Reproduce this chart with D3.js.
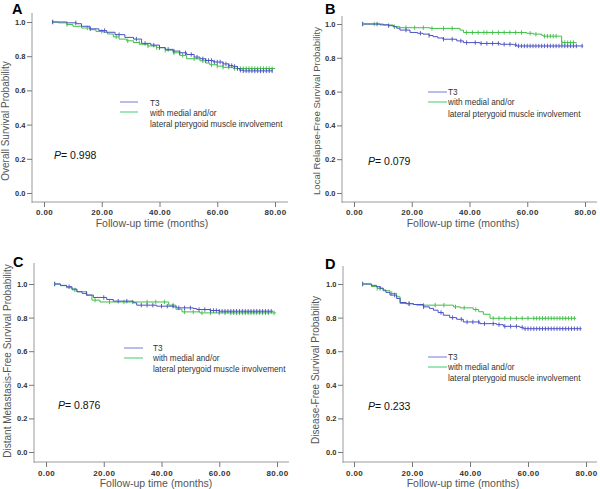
<!DOCTYPE html>
<html><head><meta charset="utf-8">
<script src="https://cdn.jsdelivr.net/npm/d3@7"></script>
<style>body{margin:0;background:#fff}svg{display:block;font-family:"Liberation Sans",Arial,sans-serif}</style>
</head><body><svg id="c" width="600" height="489"></svg>
<script>
// ---------- data ----------
const xTicks = [0, 20, 40, 60, 80];
const yTicks = [0, 0.2, 0.4, 0.6, 0.8, 1.0];
const legendLabels = ["T3", "with medial and/or", "lateral pterygoid muscle involvement"];
const panelLetters = ["A", "B", "C", "D"];
const yTitles = ["Overall Survival Probability", "Local Relapse-Free Survival Probability",
                 "Distant Metastasis-Free Survival Probability", "Disease-Free Survival Probability"];
const pValues = ["0.998", "0.079", "0.876", "0.233"];
const xTitle = "Follow-up time (months)";

// Kaplan-Meier steps [time, survival]
const aT3 = [[2.9,1.0],[8,0.995],[11.3,0.99],[13,0.975],[15.9,0.96],[19,0.95],[21.7,0.94],[24.6,0.926],[28,0.91],[31,0.9],[33.8,0.875],[37,0.865],[40,0.85],[42,0.84],[44.7,0.83],[47,0.82],[49.4,0.81],[52,0.795],[54,0.785],[56,0.775],[58.6,0.766],[62,0.755],[64,0.745],[65.5,0.74],[67,0.728],[67.8,0.718],[69,0.714],[79.2,0.714]];
const aPt = [[2.9,1.0],[5,0.995],[7.8,0.985],[10,0.975],[13,0.965],[15.9,0.955],[18,0.945],[20.6,0.94],[22,0.93],[24,0.913],[26,0.9],[28.6,0.89],[31,0.88],[33.2,0.87],[36,0.86],[39,0.85],[42,0.835],[44.7,0.82],[47,0.805],[49.4,0.785],[54,0.773],[56,0.76],[57.4,0.75],[60,0.742],[62,0.735],[65.5,0.728],[80,0.728]];
const bT3 = [[3.2,1.0],[9,0.995],[12,0.99],[13.6,0.984],[14.8,0.975],[15.9,0.964],[19.4,0.95],[22,0.945],[23.9,0.94],[26,0.932],[27.4,0.925],[29,0.917],[30.8,0.91],[35.6,0.9],[37.9,0.89],[43.6,0.885],[50.6,0.88],[55.2,0.877],[56.3,0.87],[79.4,0.87]];
const bPt = [[3.2,1.0],[10.2,0.994],[13.6,0.984],[15.9,0.978],[26.3,0.974],[36.7,0.964],[37.9,0.95],[59.8,0.945],[62.1,0.94],[65,0.933],[65.5,0.928],[71.9,0.89],[77.1,0.89]];
const cT3 = [[3.1,1.0],[5,0.992],[7.1,0.984],[9,0.97],[10.7,0.954],[12.5,0.944],[14.1,0.934],[16.4,0.92],[21,0.908],[23.3,0.898],[30.2,0.888],[31.4,0.874],[38.3,0.868],[44.1,0.864],[45.3,0.858],[51,0.854],[52.2,0.848],[56.8,0.842],[60,0.838],[78.7,0.838]];
const cPt = [[3.1,1.0],[5,0.99],[7.1,0.978],[9,0.965],[10.7,0.954],[14.1,0.934],[15.9,0.904],[18.7,0.893],[42.5,0.874],[45,0.85],[47.1,0.834],[53.3,0.828],[79.6,0.828]];
const dT3 = [[3.2,1.0],[6,0.992],[7.8,0.984],[9,0.975],[10.1,0.964],[11,0.95],[12.4,0.934],[14.7,0.914],[15.9,0.89],[18,0.882],[20.5,0.878],[23.9,0.864],[26,0.855],[27.4,0.844],[29,0.83],[30.8,0.814],[33,0.8],[35.4,0.79],[37.7,0.774],[43.4,0.764],[49.2,0.758],[51.5,0.748],[57.2,0.742],[58.4,0.734],[78.5,0.734]];
const dPt = [[3.2,1.0],[6,0.985],[8,0.974],[10,0.96],[12.4,0.944],[14.7,0.924],[15.9,0.884],[20.5,0.878],[21.6,0.874],[34.3,0.864],[36.6,0.858],[41.1,0.848],[43,0.835],[44.6,0.82],[46.9,0.796],[76.6,0.796]];

// censored times
const aT3Cens = [3,11,16,21,26,32,35,38,40,43,45,47,49,51,53,55,56,57,58,59,60,61,62,63,64,65,66,67,68,69,70,71,72,73,74,75,76,77,78,79];
const aPtCens = [3,8,15,20,25,29,33,36,39,42,45,48,52,55,58,60,62,64,66,67,68,69,70,71,72,73,74,75,76,77,78,79];
const bT3Cens = [3,8,12,18,23,26,31,34,37,39,42,44,46,48,50,52,54,56,57,58,59,60,61,62,63,64,65,66,67,68,69,70,71,72,73,74,75,76,77,79];
const bPtCens = [3,7,14,18,21,24,27,31,34,39,41,43,45,46,48,50,52,54,56,58,61,63,66,67,68,69,70,72,73,74,75,76];
const cT3Cens = [3,8,14,20,25,28,33,35,37,40,42,44,46,48,50,53,55,57,58,59,60,61,62,63,64,65,66,67,68,69,70,71,72,73,74,75,76,77,78];
const cPtCens = [3,10,17,22,27,30,35,38,41,44,48,51,54,57,60,62,64,65,66,67,68,69,70,71,72,73,74,75,76,77,79];
const dT3Cens = [3,9,14,19,24,30,34,37,39,41,43,45,48,50,52,54,56,58,59,60,61,62,63,64,65,66,67,68,69,70,71,72,73,74,75,76,77,78];
const dPtCens = [3,8,13,19,24,28,31,35,38,42,48,50,52,54,56,58,60,62,63,64,65,66,67,68,69,70,71,72,73,74,75,76];

// ---------- layout ----------
const colT3 = "#4a50c4", colPt = "#3dbf45";
const legT3 = "#8c8fe0", legPt = "#5fd685";
const layouts = [
  {x0:44, x80:275, y1:22, y0:193, ax:32, ay:202, top:13, right:288, letter:[12,14], p:[54,159], leg:{x1:120,x2:138,ly:102,tx:150,ty:[103,113,124]}, yt:[9,121], ytSize:10, xt:[152,227], tl:215},
  {x0:354, x80:585, y1:24, y0:193, ax:342, ay:202, top:16, right:597, letter:[325,14], p:[368,165], leg:{x1:428,x2:447,ly:92,tx:448,ty:[92,102,114]}, yt:[320,111], ytSize:9.6, xt:[463,227], tl:215},
  {x0:46, x80:277, y1:284, y0:452, ax:34, ay:462, top:263, right:289, letter:[13,267], p:[58,409], leg:{x1:124,x2:143,ly:348,tx:153,ty:[348,358,369]}, yt:[11,361], ytSize:10, xt:[156,487], tl:476},
  {x0:354, x80:586, y1:284, y0:452, ax:343, ay:462, top:266, right:597, letter:[325,269], p:[368,410], leg:{x1:428,x2:447,ly:357,tx:448,ty:[357,367,378]}, yt:[319,370], ytSize:10, xt:[463,487], tl:476}
];
const seriesData = [[aT3,aPt],[bT3,bPt],[cT3,cPt],[dT3,dPt]];
const censData = [[aT3Cens,aPtCens],[bT3Cens,bPtCens],[cT3Cens,cPtCens],[dT3Cens,dPtCens]];

const svg = d3.select("#c");
svg.append("rect").attr("width",600).attr("height",489).attr("fill","#fff");

layouts.forEach((L, i) => {
  const g = svg.append("g");
  const x = d3.scaleLinear().domain([0,80]).range([L.x0, L.x80]);
  const y = d3.scaleLinear().domain([0,1]).range([L.y0, L.y1]);

  // axes lines
  g.append("line").attr("x1",L.ax).attr("x2",L.ax).attr("y1",L.top).attr("y2",L.ay+1).attr("stroke","#9a9a9a").attr("stroke-width",1);
  g.append("line").attr("x1",L.ax).attr("x2",L.right).attr("y1",L.ay).attr("y2",L.ay).attr("stroke","#9a9a9a").attr("stroke-width",1);

  // y ticks
  const yAx = d3.axisLeft(y).tickValues(yTicks).tickFormat(d3.format(".1f")).tickSize(5).tickSizeOuter(0);
  const yg = g.append("g").attr("transform",`translate(${L.ax},0)`).call(yAx);
  yg.select(".domain").remove();
  yg.selectAll(".tick line").attr("stroke","#777");
  yg.selectAll(".tick text").attr("font-family","Liberation Sans, Arial, sans-serif").attr("font-size",7.5).attr("font-weight","bold").attr("fill","#333").attr("x",-6.5);

  // x ticks
  const xAx = d3.axisBottom(x).tickValues(xTicks).tickFormat(d3.format(".2f")).tickSize(5).tickSizeOuter(0);
  const xg = g.append("g").attr("transform",`translate(0,${L.ay})`).call(xAx);
  xg.select(".domain").remove();
  xg.selectAll(".tick line").attr("stroke","#777");
  xg.selectAll(".tick text").attr("font-family","Liberation Sans, Arial, sans-serif").attr("font-size",8).attr("font-weight","bold").attr("fill","#333")
    .attr("letter-spacing",0.4).attr("dy",null).attr("y",L.tl - L.ay);

  // titles
  g.append("text").attr("x",L.xt[0]).attr("y",L.xt[1]).attr("text-anchor","middle").attr("font-size",10.5).attr("fill","#555").text(xTitle);
  g.append("text").attr("transform",`translate(${L.yt[0]},${L.yt[1]}) rotate(-90)`).attr("text-anchor","middle").attr("font-size",L.ytSize).attr("fill","#555").text(yTitles[i]);

  // panel letter
  g.append("text").attr("x",L.letter[0]).attr("y",L.letter[1]).attr("font-size",14.5).attr("font-weight","bold").attr("fill","#000").text(panelLetters[i]);

  // p value
  const pt = g.append("text").attr("x",L.p[0]).attr("y",L.p[1]).attr("font-size",10.5).attr("fill","#111");
  pt.append("tspan").attr("font-style","italic").text("P");
  pt.append("tspan").text("= " + pValues[i]);

  // curves
  const line = d3.line().x(d=>x(d[0])).y(d=>y(d[1])).curve(d3.curveStepAfter);
  const cols = [colT3, colPt];
  [1,0].forEach(k => {
    const data = seriesData[i][k];
    g.append("path").attr("d",line(data)).attr("fill","none").attr("stroke",cols[k]).attr("stroke-width",1);
    const cens = censData[i][k];
    const endT = data[data.length-1][0];
    cens.filter(t => t <= endT).forEach(t => {
      let s = data[0][1];
      for (const d of data) { if (d[0] <= t) s = d[1]; }
      g.append("line").attr("x1",x(t)).attr("x2",x(t)).attr("y1",y(s)-2.2).attr("y2",y(s)+2.2).attr("stroke",cols[k]).attr("stroke-width",0.9);
    });
  });

  // legend
  const lg = L.leg;
  g.append("line").attr("x1",lg.x1).attr("x2",lg.x2).attr("y1",lg.ly).attr("y2",lg.ly).attr("stroke",legT3).attr("stroke-width",1.2);
  g.append("line").attr("x1",lg.x1).attr("x2",lg.x2).attr("y1",lg.ly+10).attr("y2",lg.ly+10).attr("stroke",legPt).attr("stroke-width",1.2);
  legendLabels.forEach((t,j) => {
    g.append("text").attr("x",lg.tx).attr("y",lg.ty[j]).attr("dy","0.35em").attr("font-size",8.2).attr("fill","#333").text(t);
  });
});
</script>
</body></html>
